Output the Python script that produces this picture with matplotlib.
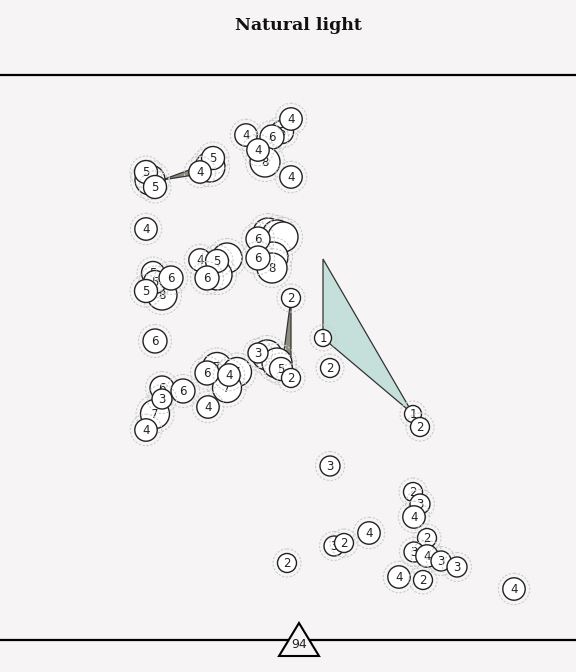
import matplotlib
matplotlib.use('Agg')
import matplotlib.pyplot as plt
from matplotlib.patches import Circle, Polygon

# node data: x, y in picture pixels, label shown inside the node
node_x = [150, 146, 155, 210, 213, 200,
          282, 246, 272, 291, 265, 258, 291,
          146,
          153, 162, 155, 171, 146,
          227, 217, 200, 217, 207,
          268, 277, 283, 273, 272, 258, 258,
          291,
          155,
          162, 183, 155, 162, 146,
          217, 237, 227, 207, 229, 208,
          267, 277, 281, 258, 291,
          323, 330, 413, 420,
          330, 413, 420, 414, 369, 334, 344, 287,
          427, 414, 427, 441, 457, 399, 423, 514]
node_y = [180, 172, 187, 167, 158, 172,
          132, 135, 137, 119, 162, 150, 177,
          229,
          273, 295, 282, 278, 291,
          258, 275, 260, 261, 278,
          233, 235, 237, 257, 268, 239, 258,
          298,
          341,
          388, 391, 414, 399, 430,
          367, 372, 388, 373, 375, 407,
          355, 363, 369, 353, 378,
          338, 368, 414, 427,
          466, 492, 504, 517, 533, 546, 543, 563,
          538, 552, 556, 561, 567, 577, 580, 589]
node_label = ['', '5', '5', '', '5', '4',
              '5', '4', '6', '4', '8', '4', '4',
              '4',
              '5', '8', '5', '6', '5',
              '', '', '4', '5', '6',
              '', '', '', '', '8', '6', '6',
              '2',
              '6',
              '6', '6', '7', '3', '4',
              '7', '7', '7', '6', '4', '4',
              '', '', '5', '3', '2',
              '1', '2', '1', '2',
              '3', '2', '3', '4', '4', '3', '2', '2',
              '2', '3', '4', '3', '3', '4', '2', '4']

# polygons linking nodes
teal_x = [323, 323, 413]
teal_y = [259, 338, 414]
gray1_x = [162, 200, 200]
gray1_y = [180, 166, 174]
gray2_x = [291, 283, 291]
gray2_y = [298, 359, 369]

title = 'Natural light'
page_number = '94'

radius = {'1': 8.5, '2': 9.5, '3': 10, '4': 11.2, '5': 11.5, '6': 12,
          '7': 14.5, '8': 15, '': 15}

bg = '#f6f4f5'
fig = plt.figure(figsize=(5.76, 6.72), dpi=100, facecolor=bg)
ax = fig.add_axes([0, 0, 1, 1])
ax.set_xlim(0, 576)
ax.set_ylim(672, 0)
ax.set_facecolor(bg)
ax.axis('off')

ax.add_patch(Polygon(list(zip(teal_x, teal_y)), closed=True, facecolor='#c5dfdb',
                     edgecolor='#333333', lw=0.9, zorder=1))
ax.add_patch(Polygon(list(zip(gray1_x, gray1_y)), closed=True, facecolor='#8a8e7c',
                     edgecolor='#333333', lw=0.9, zorder=1))
ax.add_patch(Polygon(list(zip(gray2_x, gray2_y)), closed=True, facecolor='#8a8e7c',
                     edgecolor='#333333', lw=0.9, zorder=1))

z = 2
for x, y, lab in zip(node_x, node_y, node_label):
    r = radius[lab]
    ax.add_patch(Circle((x, y), r + 4.5, facecolor='none', edgecolor='#cccccc',
                        lw=0.8, ls=(0, (2, 1.5)), zorder=z))
    ax.add_patch(Circle((x, y), r, facecolor='white', edgecolor='#222222',
                        lw=1.0, zorder=z + 0.1))
    ax.text(x, y + 0.5, lab, ha='center', va='center', fontsize=8.5,
            color='#222222', zorder=z + 0.2)
    z += 1

# header, footer
ax.text(298, 25, title, ha='center', va='center', fontsize=12.5,
        fontweight='bold', family='DejaVu Serif', color='#111111')
ax.plot([0, 576], [75, 75], color='black', lw=1.6, zorder=500)
ax.plot([0, 576], [640, 640], color='black', lw=1.6, zorder=500)
ax.add_patch(Polygon([(299, 623), (279, 656), (319, 656)], closed=True,
                     facecolor=bg, edgecolor='black', lw=1.5, zorder=501))
ax.text(299, 645, page_number, ha='center', va='center', fontsize=9,
        color='#222222', zorder=502)

fig.savefig('out.png', dpi=100, facecolor=bg)
